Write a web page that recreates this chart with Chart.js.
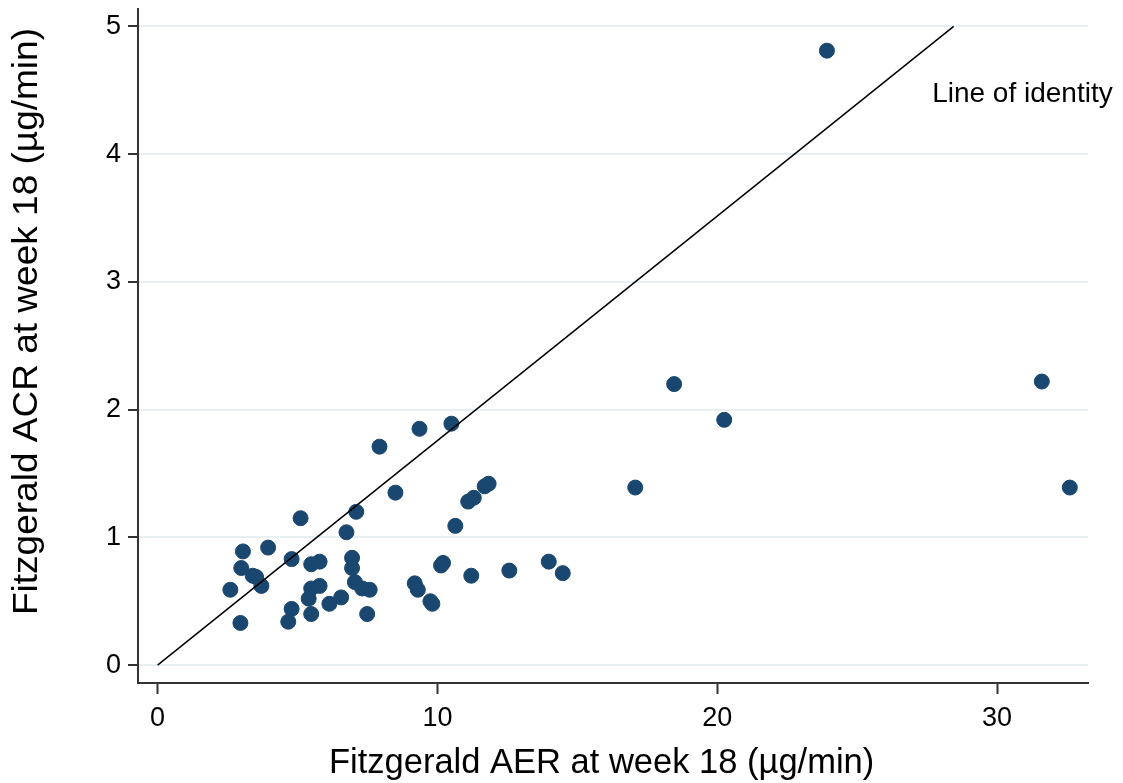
<!DOCTYPE html>
<html>
<head>
<meta charset="utf-8">
<script src="https://cdn.jsdelivr.net/npm/chart.js@4.4.0/dist/chart.umd.min.js"></script>
<style>
  html, body { margin: 0; padding: 0; background: #fff; }
  canvas { display: block; }
</style>
</head>
<body>
<canvas id="myChart" width="1123" height="783"></canvas>
<script>
// Fitzgerald AER (x) vs ACR (y) at week 18, one value per participant
var aerValues = [23.92, 18.46, 20.25, 31.6, 32.6, 17.07, 13.98, 14.48, 12.57, 11.21,
  10.5, 9.36, 7.93, 8.5, 11.1, 11.3, 11.69, 11.83, 10.64, 10.13, 10.2, 9.19, 9.3, 9.75, 9.82,
  7.1, 6.75, 5.11, 6.95, 6.95, 7.05, 7.31, 7.58, 7.49, 6.56, 6.14, 5.79, 5.49, 5.79, 5.49,
  5.4, 5.49, 4.79, 4.79, 4.67, 3.95, 3.05, 2.99, 3.4, 3.52, 3.71, 2.6, 2.96];
var acrValues = [4.81, 2.2, 1.92, 2.22, 1.39, 1.39, 0.81, 0.72, 0.74, 0.7,
  1.89, 1.85, 1.71, 1.35, 1.28, 1.31, 1.4, 1.42, 1.09, 0.78, 0.8, 0.64, 0.59, 0.5, 0.48,
  1.2, 1.04, 1.15, 0.84, 0.76, 0.65, 0.6, 0.59, 0.4, 0.53, 0.48, 0.62, 0.6, 0.81, 0.79,
  0.52, 0.4, 0.83, 0.44, 0.34, 0.92, 0.89, 0.76, 0.7, 0.69, 0.62, 0.59, 0.33];

var identityX = [0, 28.45];
var identityY = [0, 5];

var xTicks = [0, 10, 20, 30];
var yTicks = [0, 1, 2, 3, 4, 5];

var xTitle = 'Fitzgerald AER at week 18 (\u00b5g/min)';
var yTitle = 'Fitzgerald ACR at week 18 (\u00b5g/min)';
var lineLabel = { text: 'Line of identity', x: 27.68, y: 4.41 };

var font = '"Liberation Sans", Arial, sans-serif';
var axisColor = '#333333';

var points = aerValues.map(function (v, i) { return { x: v, y: acrValues[i] }; });
var identity = identityX.map(function (v, i) { return { x: v, y: identityY[i] }; });

// axis titles and the line label, drawn by hand so they sit where Stata put them
var textPlugin = {
  id: 'texts',
  afterDraw: function (chart) {
    var c = chart.ctx;
    var xs = chart.scales.x, ys = chart.scales.y;
    c.save();
    c.fillStyle = '#000';
    c.textBaseline = 'alphabetic';
    c.textAlign = 'left';

    c.font = '28px ' + font;
    c.fillText(lineLabel.text, xs.getPixelForValue(lineLabel.x), ys.getPixelForValue(lineLabel.y));

    c.font = '34.5px ' + font;
    c.fillText(xTitle, 329, 773);

    c.save();
    c.translate(37, 615);
    c.rotate(-Math.PI / 2);
    var w = c.measureText(yTitle).width;
    c.scale(587 / w, 1);
    c.fillText(yTitle, 0, 0);
    c.restore();

    c.restore();
  }
};

var ctx = document.getElementById('myChart').getContext('2d');
var myChart = new Chart(ctx, {
  type: 'scatter',
  data: {
    datasets: [
      {
        type: 'line',
        label: 'Line of identity',
        data: identity,
        borderColor: '#000',
        borderWidth: 1.5,
        pointRadius: 0,
        fill: false,
        order: 0
      },
      {
        label: 'ACR',
        data: points,
        backgroundColor: '#1a476f',
        borderColor: '#1a476f',
        borderWidth: 1,
        pointRadius: 7.5,
        pointHoverRadius: 7.5,
        order: 1
      }
    ]
  },
  options: {
    responsive: false,
    animation: false,
    devicePixelRatio: 1,
    events: [],
    layout: { padding: { top: 7, right: 35, left: 0, bottom: 0 } },
    plugins: {
      legend: { display: false },
      tooltip: { enabled: false }
    },
    scales: {
      x: {
        type: 'linear',
        min: -0.7,
        max: 33.25,
        afterBuildTicks: function (s) { s.ticks = xTicks.map(function (v) { return { value: v }; }); },
        afterFit: function (s) { s.height = 100; s.paddingLeft = 0; s.paddingRight = 0; },
        grid: { drawOnChartArea: false, drawTicks: true, tickLength: 11, tickColor: axisColor, tickWidth: 2 },
        border: { display: true, color: axisColor, width: 2 },
        ticks: { color: '#000', padding: 8, maxRotation: 0, font: { family: font, size: 27 } }
      },
      y: {
        type: 'linear',
        min: -0.14,
        max: 5.14,
        afterBuildTicks: function (s) { s.ticks = yTicks.map(function (v) { return { value: v }; }); },
        afterFit: function (s) { s.width = 138; s.paddingTop = 0; s.paddingBottom = 0; },
        grid: { color: '#e8eff2', lineWidth: 2, drawTicks: true, tickLength: 10, tickColor: axisColor, tickWidth: 2 },
        border: { display: true, color: axisColor, width: 2 },
        ticks: { color: '#000', padding: 7, font: { family: font, size: 27 } }
      }
    }
  },
  plugins: [textPlugin]
});
</script>
</body>
</html>
